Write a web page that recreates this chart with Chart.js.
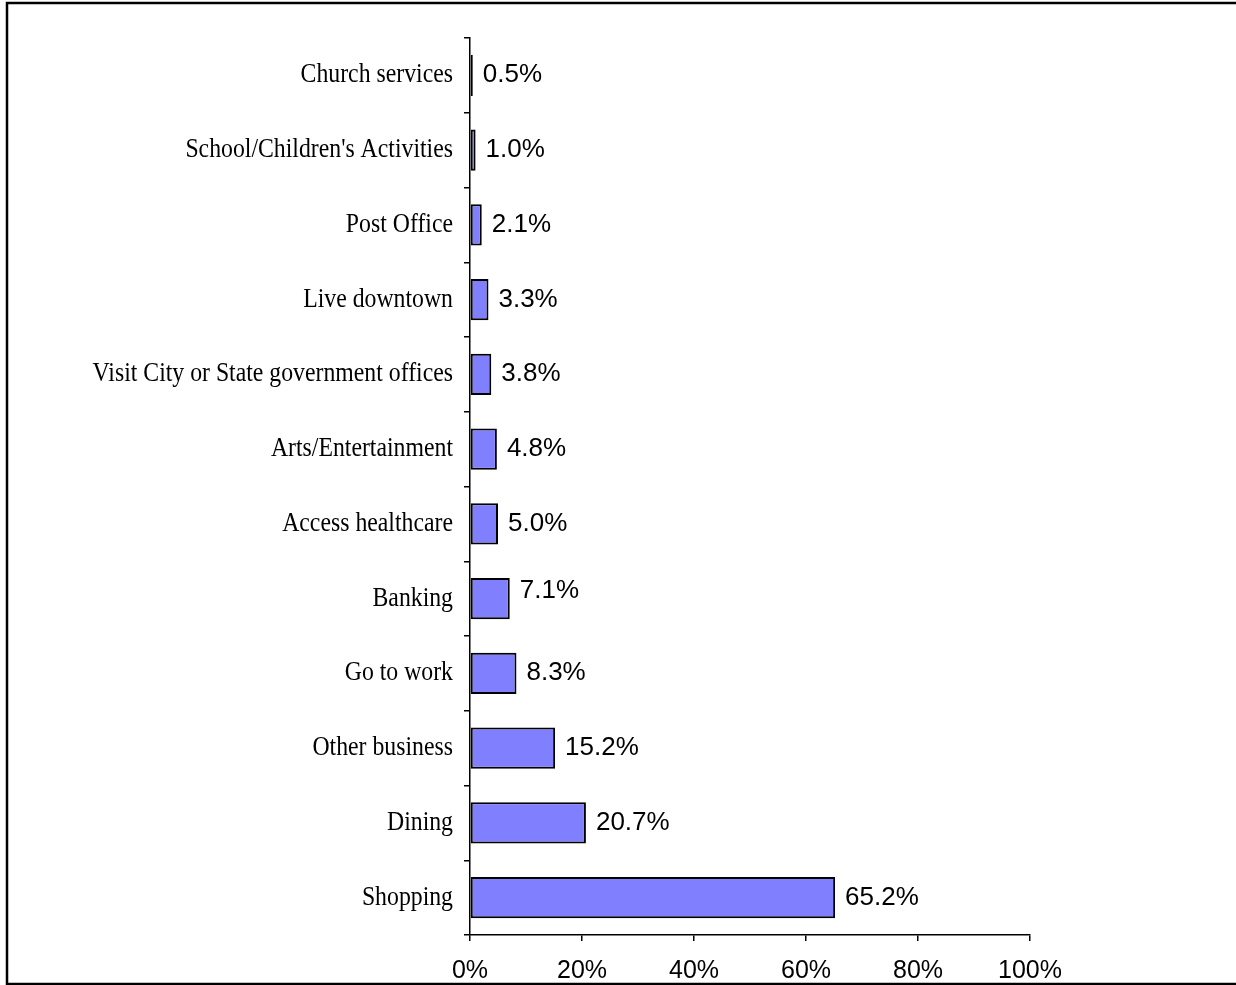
<!DOCTYPE html>
<html>
<head>
<meta charset="utf-8">
<script src="https://cdn.jsdelivr.net/npm/chart.js@4/dist/chart.umd.min.js"></script>
<style>
  html, body { margin: 0; padding: 0; background: #fff; }
  #wrap { position: relative; width: 1236px; height: 985px; }
</style>
</head>
<body>
<div id="wrap"><canvas id="c" width="1236" height="985"></canvas></div>
<script>
// Reasons for visiting downtown (share of respondents)
const categories = [
  "Church services",
  "School/Children's Activities",
  "Post Office",
  "Live downtown",
  "Visit City or State government offices",
  "Arts/Entertainment",
  "Access healthcare",
  "Banking",
  "Go to work",
  "Other business",
  "Dining",
  "Shopping"
];
const shares = [0.5, 1.0, 2.1, 3.3, 3.8, 4.8, 5.0, 7.1, 8.3, 15.2, 20.7, 65.2];
const xTicks = [0, 20, 40, 60, 80, 100];

// Frame around the whole chart
const framePlugin = {
  id: 'frame',
  beforeDraw(chart) {
    const ctx = chart.ctx;
    ctx.save();
    ctx.fillStyle = '#fff';
    ctx.fillRect(0, 0, chart.width, chart.height);
    ctx.strokeStyle = '#000';
    ctx.lineWidth = 2.5;
    ctx.strokeRect(7, 3, 1400, 981);
    ctx.restore();
  }
};

// Category names, set in a narrow serif face, right-aligned against the axis
const categoryLabels = {
  id: 'categoryLabels',
  afterDraw(chart) {
    const ctx = chart.ctx;
    const ys = chart.scales.y;
    ctx.save();
    ctx.font = '27px "Liberation Serif", "Times New Roman", serif';
    ctx.fillStyle = '#000';
    ctx.textAlign = 'right';
    ctx.textBaseline = 'alphabetic';
    chart.data.labels.forEach((lab, i) => {
      const y = ys.getPixelForTick(i);
      ctx.save();
      ctx.translate(ys.right - 17, y + 7);
      ctx.scale(0.88, 1);
      ctx.fillText(lab, 0, 0);
      ctx.restore();
    });
    ctx.restore();
  }
};

// Value labels right of each bar
const valueLabels = {
  id: 'valueLabels',
  afterDatasetsDraw(chart) {
    const ctx = chart.ctx;
    const meta = chart.getDatasetMeta(0);
    ctx.save();
    ctx.font = '26px "Liberation Sans", Arial, sans-serif';
    ctx.fillStyle = '#000';
    ctx.textAlign = 'left';
    ctx.textBaseline = 'alphabetic';
    meta.data.forEach((bar, i) => {
      const v = chart.data.datasets[0].data[i];
      const dy = categories[i] === 'Banking' ? -8 : 0;
      ctx.fillText(v.toFixed(1) + '%', bar.x + 10, bar.y + 7 + dy);
    });
    ctx.restore();
  }
};

new Chart(document.getElementById('c'), {
  type: 'bar',
  data: {
    labels: categories,
    datasets: [{
      data: shares,
      backgroundColor: '#8080FF',
      borderColor: '#000',
      borderWidth: 2,
      borderSkipped: false,
      barPercentage: 0.55,
      categoryPercentage: 1.0
    }]
  },
  options: {
    indexAxis: 'y',
    responsive: false,
    animation: false,
    devicePixelRatio: 1,
    layout: { padding: { top: 38, right: 206, left: 0, bottom: 0 } },
    plugins: {
      legend: { display: false },
      tooltip: { enabled: false }
    },
    scales: {
      x: {
        min: 0,
        max: 100,
        afterBuildTicks(scale) { scale.ticks = xTicks.map(v => ({ value: v })); },
        afterFit(scale) { scale.height = 50; },
        border: { color: '#000', width: 1.5 },
        grid: { drawOnChartArea: false, drawTicks: true, tickLength: 6, color: '#000', lineWidth: 1.5 },
        ticks: {
          color: '#000',
          padding: 15,
          maxRotation: 0,
          font: { family: '"Liberation Sans", Arial, sans-serif', size: 25 },
          callback: v => v + '%'
        }
      },
      y: {
        afterFit(scale) { scale.width = 470; },
        border: { color: '#000', width: 1.5 },
        grid: { drawOnChartArea: false, drawTicks: true, tickLength: 6, color: '#000', lineWidth: 1.5, offset: true },
        ticks: { display: false }
      }
    }
  },
  plugins: [framePlugin, categoryLabels, valueLabels]
});
</script>
</body>
</html>
